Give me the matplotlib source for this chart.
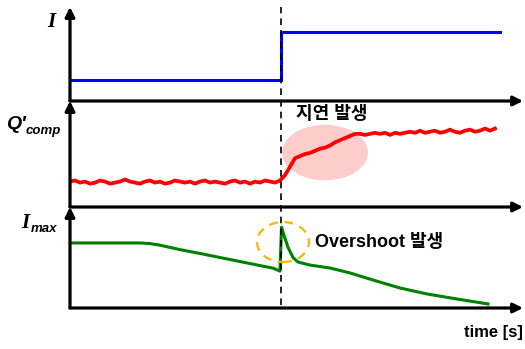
import numpy as np
import matplotlib
matplotlib.use("Agg")
import matplotlib.pyplot as plt
from matplotlib.patches import Ellipse
from matplotlib.lines import Line2D
import matplotlib.transforms as mtransforms

# ---- data ----
t_step = 21.1
t_blue = [0.2, t_step, t_step, 43.0]
i_blue = [0.22, 0.22, 0.73, 0.73]

t_red = np.arange(0, 43, 0.5)
q_red = [0.24, 0.25, 0.23, 0.24, 0.22, 0.23, 0.25, 0.24, 0.22, 0.23,
         0.24, 0.26, 0.24, 0.23, 0.22, 0.24, 0.25, 0.23, 0.24, 0.22,
         0.23, 0.25, 0.24, 0.23, 0.24, 0.22, 0.24, 0.25, 0.23, 0.24,
         0.23, 0.22, 0.24, 0.25, 0.23, 0.24, 0.22, 0.24, 0.23, 0.25,
         0.24, 0.23, 0.25,
         0.30, 0.38, 0.46, 0.48, 0.50, 0.51, 0.53, 0.55, 0.56, 0.58,
         0.61, 0.63, 0.65, 0.67, 0.69, 0.69, 0.68, 0.69, 0.70, 0.69,
         0.70, 0.68, 0.70, 0.69, 0.70, 0.71, 0.70, 0.72, 0.70, 0.71,
         0.72, 0.70, 0.71, 0.73, 0.71, 0.70, 0.72, 0.73, 0.71, 0.72,
         0.74, 0.72, 0.74]

t_green = [0.2, 7.0, 8.0, 9.0, 10.0, 11.0, 13.0, 15.0, 17.0, 19.0, 20.3, 21.0,
           21.15, 21.4, 21.8, 22.3, 22.8, 24.0, 26.0, 28.0, 30.3, 33.0, 35.7,
           38.7, 41.8]
i_green = [0.644, 0.644, 0.638, 0.622, 0.60, 0.578, 0.54, 0.50, 0.46, 0.42,
           0.395, 0.365, 0.80, 0.72, 0.60, 0.50, 0.455, 0.425, 0.396, 0.347,
           0.277, 0.198, 0.139, 0.089, 0.040]

# ---- figure ----
W, H = 525, 349
fig = plt.figure(figsize=(W / 100, H / 100), dpi=100)
x0, x1 = 70, 523
panels = [(7, 101), (101, 207), (207, 308)]
axes = []
for top, bot in panels:
    ax = fig.add_axes([x0 / W, (H - bot) / H, (x1 - x0) / W, (bot - top) / H])
    ax.set_xlim(0, 45.3)
    ax.set_ylim(0, 1)
    ax.axis("off")
    for xy in [(1, 0), (0, 1)]:
        ax.annotate("", xy=xy, xytext=(0, 0), xycoords="axes fraction",
                    arrowprops=dict(arrowstyle="-|>", lw=2.3, color="black",
                                    mutation_scale=14, shrinkA=0, shrinkB=0))
    axes.append(ax)
ax1, ax2, ax3 = axes

ax1.plot(t_blue, i_blue, color="#0000ff", lw=2.2, solid_joinstyle="miter")

ax2.add_patch(Ellipse((25.5, 0.514), 8.6, 0.524, color="#ffcccc", zorder=1, lw=0))
ax2.plot(t_red, q_red, color="#ff0000", lw=2.7, zorder=2)

ax3.plot(t_green, i_green, color="#008000", lw=2.2, zorder=2)
ax3.add_patch(Ellipse((21.3, 0.653), 5.2, 0.396, fill=False, edgecolor="#f5b800",
                      lw=1.6, ls=(0, (4, 3)), zorder=3, clip_on=False))

# dashed vertical marker
tr = mtransforms.blended_transform_factory(ax3.transData, fig.transFigure)
fig.add_artist(Line2D([t_step, t_step], [(H - 305) / H, (H - 7) / H], transform=tr,
                      color="black", lw=1.2, ls=(0, (4, 3))))

kfont = ["Liberation Sans", "Noto Sans CJK KR"]
ax2.text(26.2, 0.876, "지연 발생", family=kfont, weight="bold", fontsize=13,
         ha="center", va="center")
ax3.text(24.5, 0.653, "Overshoot 발생", family=kfont, weight="bold", fontsize=13,
         ha="left", va="center")
fig.text(523 / W, (H - 333) / H, "time [s]", family="Liberation Sans", weight="bold",
         fontsize=12, ha="right", va="center")

# axis labels
fig.text(51 / W, (H - 22) / H, "I", family="Liberation Serif", style="italic",
         weight="bold", fontsize=15, ha="center", va="center")
fig.text(6 / W, (H - 125) / H, "Q\u2032", family="Liberation Sans", style="italic",
         weight="bold", fontsize=14, ha="left", va="center")
fig.text(26 / W, (H - 131) / H, "comp", family="Liberation Sans", style="italic",
         weight="bold", fontsize=9.5, ha="left", va="center")
fig.text(25 / W, (H - 223) / H, "I", family="Liberation Serif", style="italic",
         weight="bold", fontsize=15, ha="center", va="center")
fig.text(31 / W, (H - 229) / H, "max", family="Liberation Sans", style="italic",
         weight="bold", fontsize=9.5, ha="left", va="center")

fig.savefig("out.png", dpi=100)
